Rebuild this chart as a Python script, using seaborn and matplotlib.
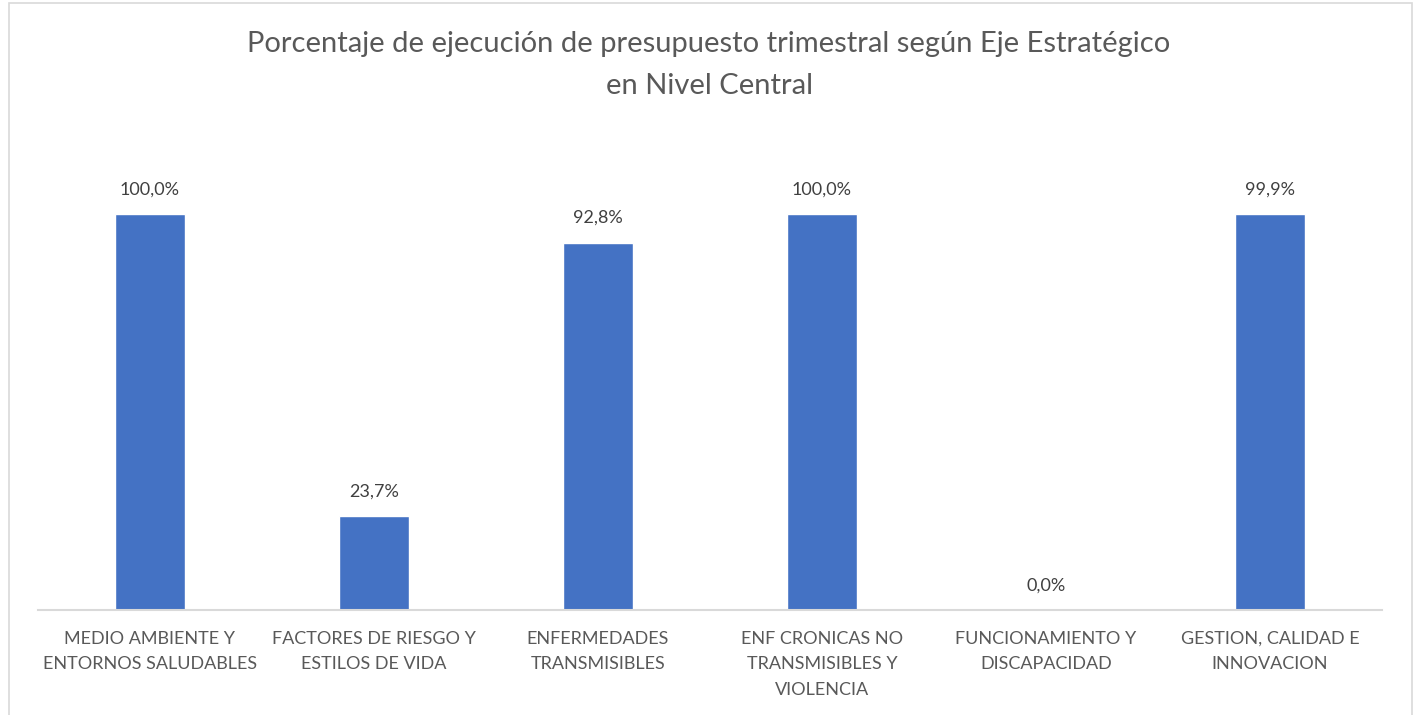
import matplotlib
matplotlib.use("Agg")
import matplotlib.pyplot as plt
import seaborn as sns
import pandas as pd
from matplotlib.patches import Rectangle

categorias = [
    "MEDIO AMBIENTE Y\nENTORNOS SALUDABLES",
    "FACTORES DE RIESGO Y\nESTILOS DE VIDA",
    "ENFERMEDADES\nTRANSMISIBLES",
    "ENF CRONICAS NO\nTRANSMISIBLES Y\nVIOLENCIA",
    "FUNCIONAMIENTO Y\nDISCAPACIDAD",
    "GESTION, CALIDAD E\nINNOVACION",
]
ejecucion = [1.000, 0.237, 0.928, 1.000, 0.000, 0.999]
etiquetas = ["100,0%", "23,7%", "92,8%", "100,0%", "0,0%", "99,9%"]

df = pd.DataFrame({"eje": categorias, "pct": ejecucion})

sns.set_style("white")
plt.rcParams["font.family"] = ["Lato", "DejaVu Sans"]
gris = "#595959"

fig = plt.figure(figsize=(14.18, 7.15), dpi=100)
ax = fig.add_axes([38 / 1418, 1 - 610 / 715, 1344 / 1418, 475.2 / 715])

sns.barplot(data=df, x="eje", y="pct", color="#4472C4", width=0.3125,
            saturation=1, ax=ax)

ax.set_ylim(0, 1.2)
ax.set_xlim(-0.5, len(categorias) - 0.5)
for i, (v, t) in enumerate(zip(ejecucion, etiquetas)):
    ax.annotate(t, (i, v), xytext=(0, 12), textcoords="offset points",
                ha="center", va="bottom", fontsize=13, color="#404040")

ax.set_xlabel("")
ax.set_ylabel("")
ax.set_yticks([])
ax.tick_params(axis="x", length=0, pad=15, labelsize=13, labelcolor=gris)
for lbl in ax.get_xticklabels():
    lbl.set_linespacing(1.72)
for s in ["top", "left", "right"]:
    ax.spines[s].set_visible(False)
ax.spines["bottom"].set_color("#d9d9d9")
ax.spines["bottom"].set_linewidth(1.5)

fig.text(0.5, 1 - 65 / 715, "Porcentaje de ejecución de presupuesto trimestral según Eje Estratégico\nen Nivel Central",
         ha="center", va="center", fontsize=21, color=gris, linespacing=1.8)

fig.patches.append(Rectangle((9 / 1418, -0.05), (1412 - 9) / 1418, 1 - 3 / 715 + 0.05,
                             transform=fig.transFigure, fill=False,
                             edgecolor="#d9d9d9", linewidth=1.2))

fig.savefig("out.png", dpi=100)
